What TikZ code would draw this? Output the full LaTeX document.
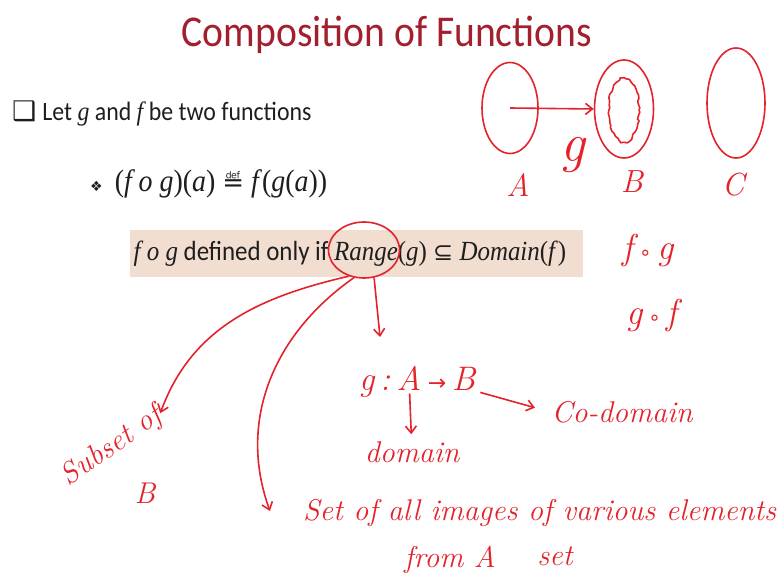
\documentclass[tikz,border=0pt]{standalone}
\usepackage{fontspec}
\newfontfamily\slidefont{Carlito}[FakeStretch=0.9]
\newfontfamily\slidemath{Liberation Serif}[FakeStretch=0.9]
\newfontfamily\symfont{DejaVu Sans}
\usepackage{xcolor}
\definecolor{cTitle}{HTML}{A31F2E}
\definecolor{cInk}{HTML}{E3222B}
\definecolor{cText}{HTML}{1E1E1E}
\definecolor{cHigh}{HTML}{F2DDD1}
\usepackage{tikz}
\usetikzlibrary{positioning,arrows.meta,shapes.geometric,decorations.pathmorphing}
\tikzset{
  slide-text/.style={text=cText,inner sep=0pt,font=\slidefont\fontsize{26.5}{30}\selectfont},
  hand-text/.style={text=cInk,inner sep=1pt,font=\itshape\fontsize{#1}{#1}\selectfont},
  hand-text/.default=30,
  set-oval/.style={draw=cInk,line width=1.6pt,ellipse,inner sep=0pt},
  % pen strokes: open barb tip like the hand-drawn ones
  hand-arrow/.style={-{Straight Barb[length=7pt,width=11pt]},line width=1.6pt,draw=cInk},
}

\begin{document}
\begin{tikzpicture}[x=1pt,y=1pt,node distance=12pt and 8pt]
  \useasboundingbox (0,0) rectangle (779,-580);
  \node[anchor=base,text=cTitle,font=\slidefont\fontsize{44}{50}\selectfont] (title) at (387,-47) {Composition of Functions};
  \node[slide-text,anchor=base west] (let) at (12,-121) {{\symfont\fontsize{27}{27}\selectfont ❑}\hspace{6pt}Let {\slidemath\itshape g} and {\slidemath\itshape f} be two functions};
  \node[slide-text,anchor=base west] (def) at (90,-192) {{\symfont\fontsize{14}{14}\selectfont ❖}\hspace{12pt}{\slidemath\fontsize{31}{34}\selectfont(\textit{f o g})(\textit{a}) {\symfont\fontsize{26}{26}\selectfont ≝} \textit{f}(\textit{g}(\textit{a}))}};
  \node[fill=cHigh,minimum width=453pt,minimum height=47pt] (condBox) at (356.5,-253.5) {};
  \node[slide-text,font=\slidefont\fontsize{27.7}{30}\selectfont] (cond) at (350,-253.5) {{\slidemath\textit{f o g}} defined only if {\slidemath\textit{Range}(\textit{g}) {\symfont\fontsize{24}{24}\selectfont ⊆} \textit{Domain}(\textit{f})}};
  \node[set-oval,minimum width=71pt,minimum height=56pt] (range) at (364,-250) {};

  \node[set-oval,minimum width=56pt,minimum height=91pt] (setA) at (510,-108) {};
  \node[set-oval,minimum width=59pt,minimum height=98pt] (setB) at (624,-109) {};
  \node[set-oval,minimum width=30pt,minimum height=64pt,decorate,decoration={random steps,segment length=3pt,amplitude=1.2pt}] (imgB) at (624,-110) {};
  \node[set-oval,minimum width=58pt,minimum height=110pt] (setC) at (736,-103) {};
  \node[hand-text=32] (labA) at (518,-185) {A};
  \node[hand-text=32] (labB) at (632,-182) {B};
  \node[hand-text=32] (labC) at (733,-185) {C};
  \node[hand-text=55] (gLab) at (573,-155) {g};
  \draw[hand-arrow] (setA.center) -- (setB.west);

  \node[hand-text=36] (fog) at (648,-250) {f\,{\symfont\fontsize{20}{20}\selectfont ∘}\,g};
  \node[hand-text=36] (gof) at (652,-315) {g\,{\symfont\fontsize{20}{20}\selectfont ∘}\,f};

  \node[hand-text=34] (mapA) at (409,-378) {A};
  \node[hand-text=34,base left=4pt of mapA] (mapg) {g\,:};
  \node[hand-text=34,base right=4pt of mapA] (mapB) {{\symfont\fontsize{22}{22}\selectfont →}\,B};
  \node[hand-text] (domain) at (412,-452) {domain};
  \node[hand-text] (codomain) at (622,-412) {Co-domain};
  \node[hand-text,rotate=35] (subset) at (112,-447) {Subset of};
  \node[hand-text] (subB) at (145,-493) {B};
  \node[hand-text,anchor=west] (images) at (302,-513) {Set of all images of various elements};
  \node[hand-text] (fromA) at (450,-560) {from A};
  \node[hand-text] (fromSet) at (555,-556) {set};

  \coordinate (mapTop) at (380,-337);
  \coordinate (imgTip) at ([xshift=-32pt,yshift=2pt]images.west);
  \draw[hand-arrow] (range.240) to[out=193,in=70] (subset.east);
  \draw[hand-arrow] (range.250) to[out=215,in=110] (imgTip);
  \draw[hand-arrow] (range.290) -- (mapTop);
  \draw[hand-arrow,shorten <=2pt,shorten >=6pt] (mapA) -- (domain);
  \draw[hand-arrow,shorten <=4pt,shorten >=16pt] (mapB.south east) -- (codomain.west);
\end{tikzpicture}
\end{document}
